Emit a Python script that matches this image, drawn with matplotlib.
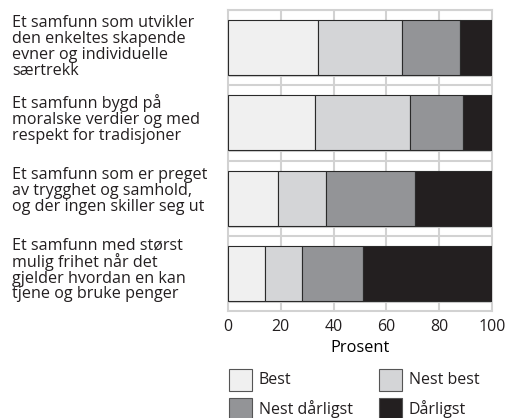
import matplotlib
matplotlib.use("Agg")
import matplotlib.pyplot as plt
from matplotlib.patches import Rectangle
import numpy as np

plt.rcParams['font.family'] = ['Open Sans', 'DejaVu Sans']
plt.rcParams['text.color'] = '#231f20'
plt.rcParams['xtick.color'] = '#231f20'

# values (percent)
categories = [
    "Et samfunn som utvikler\nden enkeltes skapende\nevner og individuelle\nsærtrekk",
    "Et samfunn bygd på\nmoralske verdier og med\nrespekt for tradisjoner",
    "Et samfunn som er preget\nav trygghet og samhold,\nog der ingen skiller seg ut",
    "Et samfunn med størst\nmulig frihet når det\ngjelder hvordan en kan\ntjene og bruke penger",
]
series_names = ["Best", "Nest best", "Nest dårligst", "Dårligst"]
best = [34, 33, 19, 14]
nest_best = [32, 36, 18, 14]
nest_darligst = [22, 20, 34, 23]
darligst = [12, 11, 29, 49]
colors = ["#f0f0f0", "#d4d5d7", "#939497", "#231f20"]
xticks = [0, 20, 40, 60, 80, 100]

W, H = 516, 418
fig = plt.figure(figsize=(W / 100, H / 100), dpi=100)
ax = fig.add_axes([228 / W, 1 - 311 / H, 264 / W, 301 / H])

grid_c = "#d2d2d2"
y = np.arange(len(categories))
left = np.zeros(len(categories))
for vals, name, c in zip([best, nest_best, nest_darligst, darligst], series_names, colors):
    ax.barh(y, vals, left=left, height=0.73, color=c, edgecolor="#2a2a2a",
            linewidth=0.8, label=name, zorder=3)
    left += np.array(vals)

# table-like background lines
for k in y:
    ax.axhline(k - 0.5, color=grid_c, lw=1.5, zorder=1)
    ax.axhline(k + 0.38, color=grid_c, lw=1.5, zorder=1)
for xv in xticks[1:-1]:
    ax.axvline(xv, color=grid_c, lw=1.5, zorder=1)

ax.set_xlim(0, 100)
ax.set_ylim(3.5, -0.5)
ax.set_yticks([])
ax.set_xticks(xticks)
ax.tick_params(axis='x', length=0, pad=6, labelsize=11.5)
for s in ax.spines.values():
    s.set_color(grid_c)
    s.set_linewidth(1.5)
ax.set_xlabel("Prosent", fontsize=11.8, labelpad=3)

# category labels on the left
label_tops = [-0.43, 0.62, 1.59, 2.52]
for txt, yt in zip(categories, label_tops):
    ax.text(-0.818, yt, txt, transform=ax.get_yaxis_transform(), ha='left', va='top',
            fontsize=11.6, linespacing=0.98)

# legend drawn by hand in pixel positions
leg_pos = [(229, 369), (379, 369), (229, 398), (379, 398)]
for (px, py), name, c in zip(leg_pos, series_names, colors):
    fig.add_artist(Rectangle((px / W, 1 - (py + 22) / H), 23 / W, 22 / H,
                             facecolor=c, edgecolor="#555555", lw=0.8,
                             transform=fig.transFigure))
    fig.text((px + 30) / W, 1 - (py + 11) / H, name, ha='left', va='center', fontsize=11.5)

fig.savefig("out.png", dpi=100)
